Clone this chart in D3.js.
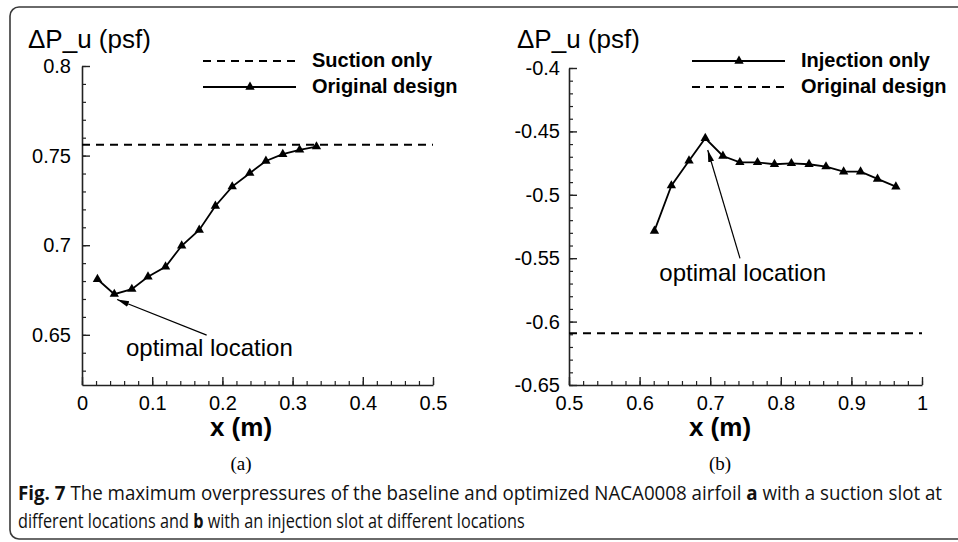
<!DOCTYPE html>
<html>
<head>
<meta charset="utf-8">
<script src="https://cdn.jsdelivr.net/npm/d3@7"></script>
<style>
  html, body { margin: 0; padding: 0; background: #fff; }
  svg { display: block; }
</style>
</head>
<body>
<svg id="fig" width="958" height="542"></svg>
<script>
// ---- Panel (a): suction slot ----
const suctionX = [0.022, 0.046, 0.071, 0.094, 0.119, 0.142, 0.167, 0.190, 0.214, 0.239, 0.262, 0.286, 0.310, 0.334];
const suctionDP = [0.681, 0.6727, 0.6755, 0.6824, 0.688, 0.6997, 0.7085, 0.7219, 0.7327, 0.7402, 0.747, 0.7508, 0.7532, 0.755];
const suctionBaseline = 0.756;
const suctionXTicks = [0, 0.1, 0.2, 0.3, 0.4, 0.5];
const suctionYTicks = [0.65, 0.7, 0.75, 0.8];
const suctionLegend = ["Suction only", "Original design"];

// ---- Panel (b): injection slot ----
const injectionX = [0.621, 0.645, 0.670, 0.693, 0.718, 0.742, 0.767, 0.791, 0.815, 0.840, 0.864, 0.889, 0.913, 0.937, 0.963];
const injectionDP = [-0.5285, -0.4928, -0.4731, -0.4554, -0.4694, -0.4744, -0.4744, -0.4759, -0.4752, -0.4759, -0.4778, -0.4818, -0.4818, -0.4875, -0.4936];
const injectionBaseline = -0.6092;
const injectionXTicks = [0.5, 0.6, 0.7, 0.8, 0.9, 1];
const injectionYTicks = [-0.65, -0.6, -0.55, -0.5, -0.45, -0.4];
const injectionLegend = ["Injection only", "Original design"];

// annotation arrows: [tailX, tailY, tipX, tipY] in data units, label anchor [x, y]
const suctionNote = { arrow: [0.1776, 0.6498, 0.050, 0.6697], label: [0.0627, 0.6381], text: "optimal location" };
const injectionNote = { arrow: [0.7422, -0.5501, 0.6965, -0.4647], label: [0.6279, -0.568], text: "optimal location" };

const yTitle = "\u0394P_u (psf)";
const xTitle = "x (m)";
const captionLine1 = [["Fig. 7", true], [" The maximum overpressures of the baseline and optimized NACA0008 airfoil ", false], ["a", true], [" with a suction slot at", false]];
const captionLine2 = [["different locations and ", false], ["b", true], [" with an injection slot at different locations", false]];

const FONT = "'Liberation Sans', Arial, Helvetica, sans-serif";
const svg = d3.select("#fig");
// plain hyphen for negative tick values
const fmt = d => d3.format("~g")(d).replace("\u2212", "-");

// outer frame
svg.append("rect")
  .attr("x", 10).attr("y", 7).attr("width", 980).attr("height", 532)
  .attr("rx", 9).attr("ry", 9)
  .attr("fill", "none").attr("stroke", "#3a3a3a").attr("stroke-width", 1.6);

const defs = svg.append("defs");
defs.append("marker")
  .attr("id", "arrowhead")
  .attr("viewBox", "0 -4 12 8")
  .attr("refX", 12).attr("refY", 0)
  .attr("markerWidth", 12).attr("markerHeight", 8)
  .attr("markerUnits", "userSpaceOnUse")
  .attr("orient", "auto")
  .append("path")
  .attr("d", "M0,-3L12,0L0,3Z")
  .attr("fill", "#000");

const tri = d3.symbol().type(d3.symbolTriangle).size(38);

function range(a, b, step) {
  const out = [];
  const n = Math.round((b - a) / step);
  for (let i = 0; i <= n; i++) out.push(+(a + i * step).toFixed(6));
  return out;
}

function drawPanel(cfg) {
  const g = svg.append("g");
  const x = d3.scaleLinear().domain(cfg.xDomain).range([cfg.left, cfg.right]);
  const y = d3.scaleLinear().domain(cfg.yDomain).range([cfg.bottom, cfg.top]);

  // minor ticks
  const xMinor = range(cfg.xDomain[0], cfg.xDomain[1], 0.02);
  const yMinor = range(Math.ceil(cfg.yDomain[0] * 100 - 1e-6) / 100, cfg.yDomain[1], 0.01);

  g.append("g")
    .attr("transform", `translate(0,${cfg.bottom})`)
    .call(d3.axisBottom(x).tickValues(xMinor).tickSizeInner(-4).tickSizeOuter(0).tickFormat(""))
    .call(a => a.select(".domain").remove())
    .call(a => a.selectAll("line").attr("stroke", "#222").attr("stroke-width", 1.2));
  g.append("g")
    .attr("transform", `translate(${cfg.left},0)`)
    .call(d3.axisLeft(y).tickValues(yMinor).tickSizeInner(-4).tickSizeOuter(0).tickFormat(""))
    .call(a => a.select(".domain").remove())
    .call(a => a.selectAll("line").attr("stroke", "#222").attr("stroke-width", 1.2));

  // major ticks with labels
  const xa = g.append("g")
    .attr("transform", `translate(0,${cfg.bottom})`)
    .call(d3.axisBottom(x).tickValues(cfg.xTicks).tickSizeInner(-8).tickSizeOuter(0).tickPadding(11).tickFormat(fmt));
  const ya = g.append("g")
    .attr("transform", `translate(${cfg.left},0)`)
    .call(d3.axisLeft(y).tickValues(cfg.yTicks).tickSizeInner(-8).tickSizeOuter(0).tickPadding(cfg.yPad).tickFormat(fmt));
  [xa, ya].forEach(a => {
    a.select(".domain").attr("stroke", "#222").attr("stroke-width", 1.6);
    a.selectAll("line").attr("stroke", "#222").attr("stroke-width", 1.4);
    a.selectAll("text").attr("font-family", FONT).attr("font-size", 20).attr("fill", "#000");
  });

  // reference (dashed) level
  g.append("line")
    .attr("x1", x(cfg.dashFrom)).attr("x2", x(cfg.dashTo))
    .attr("y1", y(cfg.baseline)).attr("y2", y(cfg.baseline))
    .attr("stroke", "#000").attr("stroke-width", 2).attr("stroke-dasharray", "8,6");

  // data line and markers
  const pts = cfg.xs.map((v, i) => [v, cfg.ys[i]]);
  g.append("path")
    .datum(pts)
    .attr("d", d3.line().x(d => x(d[0])).y(d => y(d[1])))
    .attr("fill", "none").attr("stroke", "#000").attr("stroke-width", 1.8);
  g.selectAll(".pt").data(pts).enter().append("path")
    .attr("transform", d => `translate(${x(d[0])},${y(d[1])})`)
    .attr("d", tri).attr("fill", "#000");

  // axis titles
  g.append("text")
    .attr("x", cfg.yTitleX).attr("y", 48)
    .attr("font-family", FONT).attr("font-size", 26).text(yTitle);
  g.append("text")
    .attr("x", cfg.xTitleX).attr("y", 436)
    .attr("text-anchor", "middle")
    .attr("font-family", FONT).attr("font-size", 26).attr("font-weight", "bold").text(xTitle);

  // legend
  const lg = g.append("g");
  cfg.legend.forEach((lab, i) => {
    const ly = cfg.legendY + i * 26;
    const dashed = cfg.legendDashed[i];
    lg.append("line")
      .attr("x1", cfg.legendX).attr("x2", cfg.legendX + 93)
      .attr("y1", ly).attr("y2", ly)
      .attr("stroke", "#000").attr("stroke-width", dashed ? 2 : 1.8)
      .attr("stroke-dasharray", dashed ? "8,6" : null);
    if (!dashed) {
      lg.append("path").attr("transform", `translate(${cfg.legendX + 47},${ly})`).attr("d", tri).attr("fill", "#000");
    }
    lg.append("text")
      .attr("x", cfg.legendX + 109).attr("y", ly + 6)
      .attr("font-family", FONT).attr("font-size", 20).attr("font-weight", "bold").text(lab);
  });

  // annotation
  const n = cfg.note;
  g.append("line")
    .attr("x1", x(n.arrow[0])).attr("y1", y(n.arrow[1]))
    .attr("x2", x(n.arrow[2])).attr("y2", y(n.arrow[3]))
    .attr("stroke", "#000").attr("stroke-width", 1.2)
    .attr("marker-end", "url(#arrowhead)");
  g.append("text")
    .attr("x", x(n.label[0])).attr("y", y(n.label[1]))
    .attr("font-family", FONT).attr("font-size", 24).text(n.text);

  // sub-figure tag
  g.append("text")
    .attr("x", cfg.xTitleX).attr("y", 470)
    .attr("text-anchor", "middle")
    .attr("font-family", "'Liberation Serif', 'Times New Roman', serif").attr("font-size", 19)
    .text(cfg.tag);
}

drawPanel({
  xDomain: [0, 0.5], yDomain: [0.622, 0.8],
  left: 82, right: 433, top: 66, bottom: 385, yPad: 11,
  xTicks: suctionXTicks, yTicks: suctionYTicks,
  xs: suctionX, ys: suctionDP,
  baseline: suctionBaseline, dashFrom: 0, dashTo: 0.5,
  legend: suctionLegend, legendDashed: [true, false], legendX: 203, legendY: 61,
  yTitleX: 28, xTitleX: 241,
  note: suctionNote, tag: "(a)"
});

drawPanel({
  xDomain: [0.5, 1], yDomain: [-0.65, -0.4],
  left: 569, right: 922, top: 68, bottom: 385, yPad: 9,
  xTicks: injectionXTicks, yTicks: injectionYTicks,
  xs: injectionX, ys: injectionDP,
  baseline: injectionBaseline, dashFrom: 0.5, dashTo: 1,
  legend: injectionLegend, legendDashed: [false, true], legendX: 692, legendY: 61,
  yTitleX: 517, xTitleX: 720,
  note: injectionNote, tag: "(b)"
});

// caption, fitted to the column width
function caption(parts, x0, baseline, width) {
  const t = svg.append("text")
    .attr("font-family", "'Open Sans', 'Noto Sans', sans-serif")
    .attr("font-size", 19.5).attr("fill", "#111");
  parts.forEach(([s, bold]) => {
    t.append("tspan").attr("font-weight", bold ? "bold" : "normal").text(s);
  });
  const w = t.node().getComputedTextLength();
  t.attr("transform", `translate(${x0},${baseline}) scale(${width / w},1)`);
}
caption(captionLine1, 18, 500, 925);
caption(captionLine2, 18, 528, 507);
</script>
</body>
</html>
